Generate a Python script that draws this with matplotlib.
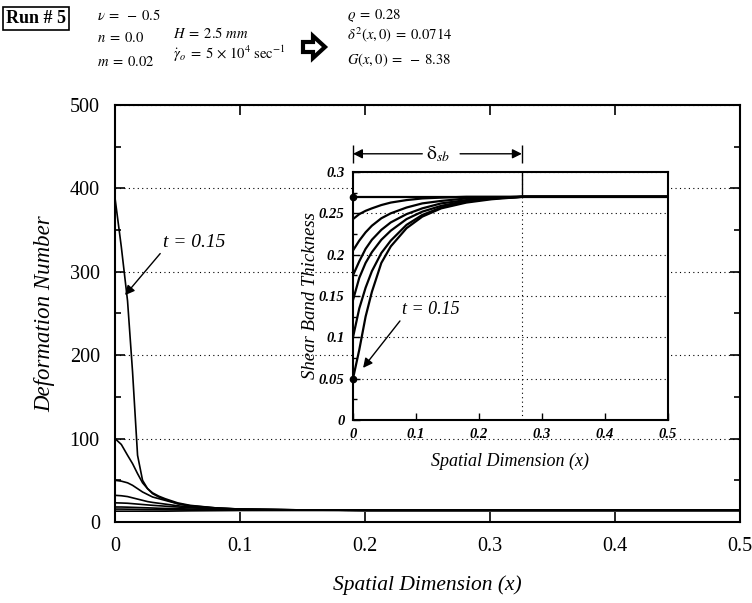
import matplotlib
matplotlib.use("Agg")
import matplotlib.pyplot as plt
from matplotlib.patches import Polygon
from matplotlib.ticker import MultipleLocator

plt.rcParams['font.family'] = ['Liberation Serif', 'DejaVu Serif']
plt.rcParams['mathtext.fontset'] = 'stix'

# main plot: deformation number vs x
x_main = [0, 0.005, 0.01, 0.014, 0.018, 0.022, 0.026, 0.03, 0.035, 0.04,
          0.05, 0.06, 0.08, 0.1, 0.15, 0.2, 0.3, 0.5]
defo = [
    [388, 330, 265, 180, 80, 50, 40, 34, 30, 27, 22, 19, 16.5, 15.5, 14.5, 14, 14, 14],
    [100, 93, 80, 70, 58, 47, 40, 35, 31, 28, 23, 20, 17, 15.5, 14.5, 14, 14, 14],
    [50, 49, 47, 44, 40, 36, 33, 30, 28, 26, 22, 19.5, 17, 15.5, 14.5, 14, 14, 14],
    [32, 31.5, 30.5, 29, 27.5, 26, 24.5, 23.5, 22.5, 21.5, 19.5, 18, 16, 15, 14.5, 14, 14, 14],
    [23, 22.8, 22.5, 22, 21.5, 21, 20.5, 20, 19.5, 19, 18, 17, 15.8, 15, 14.5, 14, 14, 14],
    [18, 18, 17.8, 17.6, 17.4, 17.2, 17, 16.8, 16.5, 16.3, 16, 15.6, 15, 14.6, 14.3, 14, 14, 14],
    [15.5, 15.5, 15.4, 15.3, 15.2, 15.1, 15, 15, 14.9, 14.8, 14.7, 14.5, 14.3, 14.2, 14, 14, 14, 14],
    [13, 13, 13, 13, 13, 13, 13, 13, 13, 13, 13.2, 13.4, 13.6, 13.8, 14, 14, 14, 14],
]

# inset: shear band thickness vs x
x_ins = [0, 0.01, 0.02, 0.03, 0.045, 0.06, 0.085, 0.11, 0.14, 0.18, 0.22, 0.27, 0.5]
thick = [
    [0.05, 0.085, 0.125, 0.155, 0.19, 0.21, 0.232, 0.246, 0.256, 0.263, 0.267, 0.27, 0.27],
    [0.10, 0.135, 0.16, 0.18, 0.202, 0.217, 0.236, 0.248, 0.257, 0.264, 0.268, 0.27, 0.27],
    [0.145, 0.172, 0.19, 0.203, 0.218, 0.229, 0.243, 0.252, 0.259, 0.265, 0.268, 0.27, 0.27],
    [0.175, 0.192, 0.207, 0.218, 0.23, 0.239, 0.249, 0.256, 0.262, 0.266, 0.269, 0.27, 0.27],
    [0.205, 0.217, 0.227, 0.235, 0.244, 0.25, 0.257, 0.262, 0.265, 0.268, 0.269, 0.27, 0.27],
    [0.243, 0.249, 0.253, 0.256, 0.26, 0.263, 0.266, 0.268, 0.269, 0.27, 0.27, 0.27, 0.27],
    [0.27, 0.27, 0.27, 0.27, 0.27, 0.27, 0.27, 0.27, 0.27, 0.27, 0.27, 0.27, 0.27],
]
delta_sb = 0.268

fig = plt.figure(figsize=(7.52, 6.03), dpi=100)

# ---- main axes
ax = fig.add_axes([0.153, 0.1343, 0.831, 0.6916])
for y in defo:
    ax.plot(x_main, y, color='black', lw=1.2)
ax.set_xlim(0, 0.5)
ax.set_ylim(0, 500)
ax.yaxis.set_major_locator(MultipleLocator(100))
ax.yaxis.set_minor_locator(MultipleLocator(50))
ax.set_xticks([0, 0.1, 0.2, 0.3, 0.4, 0.5])
ax.set_xticklabels(['0', '0.1', '0.2', '0.3', '0.4', '0.5'])
ax.tick_params(which='both', direction='in', top=True, right=True, labelsize=14.5, width=1.2)
ax.tick_params(which='major', length=7, pad=11)
ax.tick_params(which='minor', length=4)
ax.grid(axis='y', linestyle=(0, (1, 3)), color='black', lw=0.8)
for s in ax.spines.values():
    s.set_linewidth(1.5)
ax.set_xlabel('Spatial Dimension (x)', fontsize=15.5, style='italic', labelpad=14)
ax.set_ylabel('Deformation Number', fontsize=16.5, style='italic', labelpad=10)
ax.annotate('t = 0.15', xy=(0.008, 272), xytext=(0.038, 330), fontsize=14,
            style='italic',
            arrowprops=dict(arrowstyle='-|>', color='black', lw=1, shrinkA=0,
                            shrinkB=0, relpos=(0, 0), mutation_scale=14))

# ---- inset
ins = fig.add_axes([0.4694, 0.3035, 0.4189, 0.4113])
for y in thick:
    ins.plot(x_ins, y, color='black', lw=1.6)
ins.plot([0, 0], [thick[0][0], thick[-1][0]], 'o', color='black', ms=4.5,
         clip_on=False, zorder=5)
ins.set_xlim(0, 0.5)
ins.set_ylim(0, 0.3)
ins.set_xticks([0, 0.1, 0.2, 0.3, 0.4, 0.5])
ins.set_xticklabels(['0', '0.1', '0.2', '0.3', '0.4', '0.5'])
ins.set_yticks([0, 0.05, 0.1, 0.15, 0.2, 0.25, 0.3])
ins.set_yticklabels(['0', '0.05', '0.1', '0.15', '0.2', '0.25', '0.3'])
ins.yaxis.set_minor_locator(MultipleLocator(0.025))
ins.tick_params(which='both', direction='in', labelsize=10.5, width=1)
ins.tick_params(which='major', length=5, pad=6)
ins.tick_params(which='minor', length=3)
for lab in ins.get_xticklabels() + ins.get_yticklabels():
    lab.set_fontweight('bold')
    lab.set_fontstyle('italic')
ins.grid(axis='y', linestyle=(0, (1, 3)), color='black', lw=0.8)
ins.axvline(delta_sb, color='black', linestyle=(0, (1, 3)), lw=0.8)
ins.plot([delta_sb, delta_sb], [thick[-1][-1], 0.3], color='black', lw=1)
for s in ins.spines.values():
    s.set_linewidth(1.5)
ins.set_xlabel('Spatial Dimension (x)', fontsize=13, style='italic', labelpad=8)
ins.set_ylabel('Shear Band Thickness', fontsize=13.5, style='italic', labelpad=0)
ins.annotate('t = 0.15', xy=(0.016, 0.063), xytext=(0.078, 0.128), fontsize=13,
             style='italic',
             arrowprops=dict(arrowstyle='-|>', color='black', lw=1, shrinkA=0,
                             shrinkB=0, relpos=(0, 0), mutation_scale=14))
# delta_sb dimension arrow
yb = 0.322
ins.annotate('', xy=(0, yb), xytext=(0.11, yb), annotation_clip=False,
             arrowprops=dict(arrowstyle='-|>', color='black', lw=1, shrinkA=0,
                             shrinkB=0, mutation_scale=14))
ins.annotate('', xy=(delta_sb, yb), xytext=(0.17, yb), annotation_clip=False,
             arrowprops=dict(arrowstyle='-|>', color='black', lw=1, shrinkA=0,
                             shrinkB=0, mutation_scale=14))
ins.vlines([0, delta_sb], yb - 0.011, yb + 0.011, color='black', lw=1, clip_on=False)
ins.text(0.135, yb, r'$\mathrm{\delta}_{sb}$', fontsize=14, ha='center', va='center')

# ---- header
fig.text(0.048, 0.969, 'Run # 5', fontsize=13, fontweight='bold', ha='center', va='center',
         bbox=dict(boxstyle='square,pad=0.15', fc='white', ec='black', lw=1.2))
hs = 10.5
fig.text(0.129, 0.975, r'$\nu\;=\;-\;0.5$', fontsize=hs, va='center')
fig.text(0.129, 0.937, r'$n\;=\;0.0$', fontsize=hs, va='center')
fig.text(0.129, 0.897, r'$m\;=\;0.02$', fontsize=hs, va='center')
fig.text(0.230, 0.945, r'$H\;=\;2.5\ mm$', fontsize=hs, va='center')
fig.text(0.230, 0.910, r'$\dot{\gamma}_o\;=\;5\,\times\,10^4\ \mathrm{sec}^{-1}$', fontsize=hs, va='center')
fig.text(0.461, 0.975, r'$\varrho\;=\;0.28$', fontsize=hs, va='center')
fig.text(0.461, 0.942, r'$\delta^2(x, 0)\;=\;0.0714$', fontsize=hs, va='center')
fig.text(0.461, 0.900, r'$G(x, 0)\;=\;-\;8.38$', fontsize=hs, va='center')

# block arrow icon
W, H = 752.0, 603.0
pts = [(303, 42), (313, 42), (313, 36), (325, 47), (313, 58), (313, 52), (303, 52)]
fig.patches.append(Polygon([(px / W, 1 - py / H) for px, py in pts], closed=True,
                           fc='white', ec='black', lw=3, transform=fig.transFigure,
                           figure=fig))

fig.savefig('out.png', dpi=100)
